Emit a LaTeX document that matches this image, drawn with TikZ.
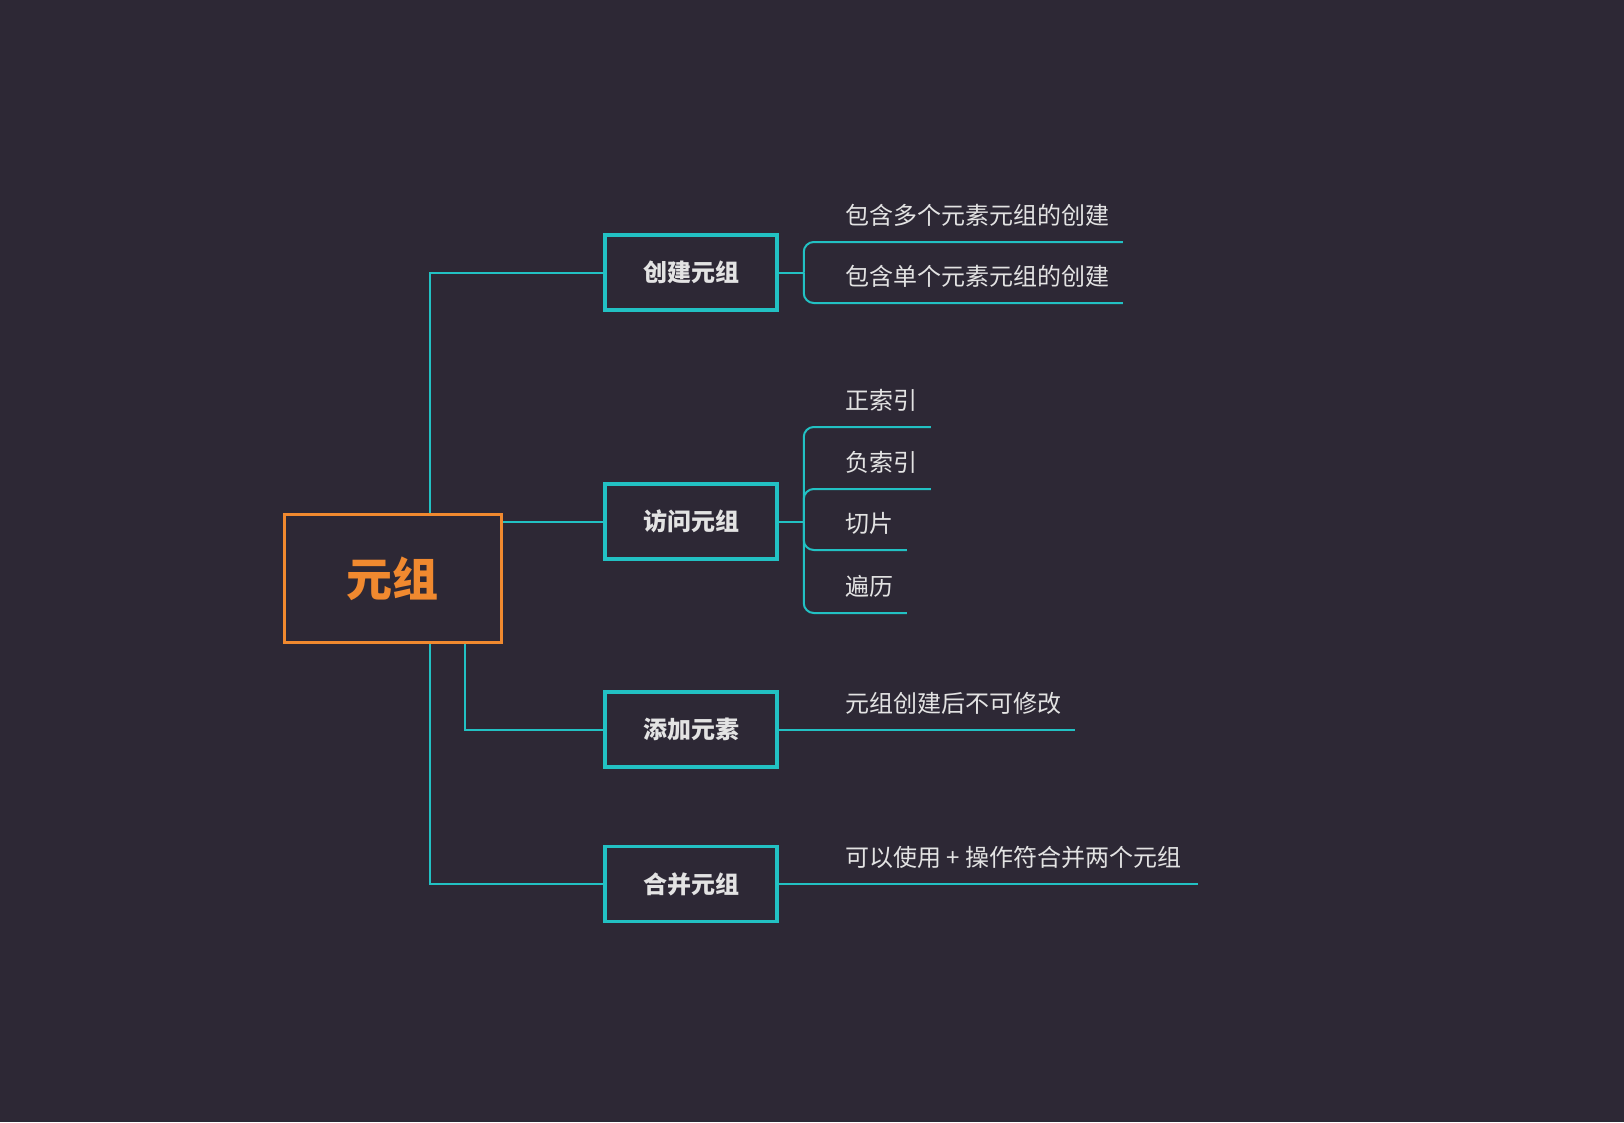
\documentclass[tikz,border=0pt]{standalone}
\usepackage{fontspec}
\setmainfont{Noto Sans CJK SC}
\usetikzlibrary{positioning}
\definecolor{bgcol}{HTML}{2D2835}
\definecolor{tealline}{HTML}{22C1C3}
\definecolor{orangeline}{HTML}{F0892F}
\definecolor{textgray}{HTML}{E3E3E3}

\begin{document}
\begin{tikzpicture}[x=1pt, y=-1pt, thick]
    \tikzstyle{root} = [draw=orangeline, line width=3pt, rectangle, minimum width=217pt, minimum height=128pt, text=orangeline, font=\fontsize{46}{50}\selectfont\bfseries]
    \tikzstyle{block} = [draw=tealline, line width=3.5pt, rectangle, minimum width=172pt, minimum height=75pt, text=textgray, font=\fontsize{24}{28}\selectfont\bfseries]
    \tikzstyle{leaf} = [anchor=south west, inner sep=0pt, text height=20pt, text depth=17pt, text=textgray, font=\fontsize{24}{28}\selectfont]
    \tikzstyle{link} = [draw=tealline, line width=2pt]
    \tikzstyle{fork} = [link, rounded corners=10pt]

    \fill [bgcol] (0,0) rectangle (1624,1122);

    \node [root] (tuple) at (392.75,578.5) {元组};
    \node [block] (create) at (691,272.5) {创建元组};
    \node [block] (access) at (691,521.5) {访问元组};
    \node [block] (append) at (691,729.5) {添加元素};
    \node [block] (merge) at (691,884) {合并元组};

    \node [leaf] (multi) at (845,242) {包含多个元素元组的创建};
    \node [leaf] (single) at (845,303) {包含单个元素元组的创建};
    \node [leaf] (posidx) at (845,427) {正索引};
    \node [leaf] (negidx) at (845,489) {负索引};
    \node [leaf] (slice) at (845,550) {切片};
    \node [leaf] (loop) at (845,613) {遍历};
    \node [leaf] (immut) at (845,729.5) {元组创建后不可修改};
    \node [leaf] (concat) at (845,884) {可以使用 + 操作符合并两个元组};

    \draw [link] ([xshift=37.25pt]tuple.north) |- (create.west);
    \draw [link] (tuple.east |- access.west) -- (access.west);
    \draw [link] ([xshift=72pt]tuple.south) |- (append.west);
    \draw [link] ([xshift=37.25pt]tuple.south) |- (merge.west);

    \draw [link] (create.east) -- ++(25,0) coordinate (createfork);
    \draw [fork] (createfork) |- ([xshift=13pt]multi.south east);
    \draw [fork] (createfork) |- ([xshift=13pt]single.south east);

    \draw [link] (access.east) -- ++(25,0) coordinate (accessfork);
    \draw [fork] (accessfork) |- ([xshift=13pt]posidx.south east);
    \draw [fork] (accessfork) |- ([xshift=13pt]negidx.south east);
    \draw [fork] (accessfork) |- ([xshift=13pt]slice.south east);
    \draw [fork] (accessfork) |- ([xshift=13pt]loop.south east);

    \draw [link] (append.east) -- ([xshift=13pt]immut.south east);
    \draw [link] (merge.east) -- ([xshift=16pt]concat.south east);
\end{tikzpicture}
\end{document}
